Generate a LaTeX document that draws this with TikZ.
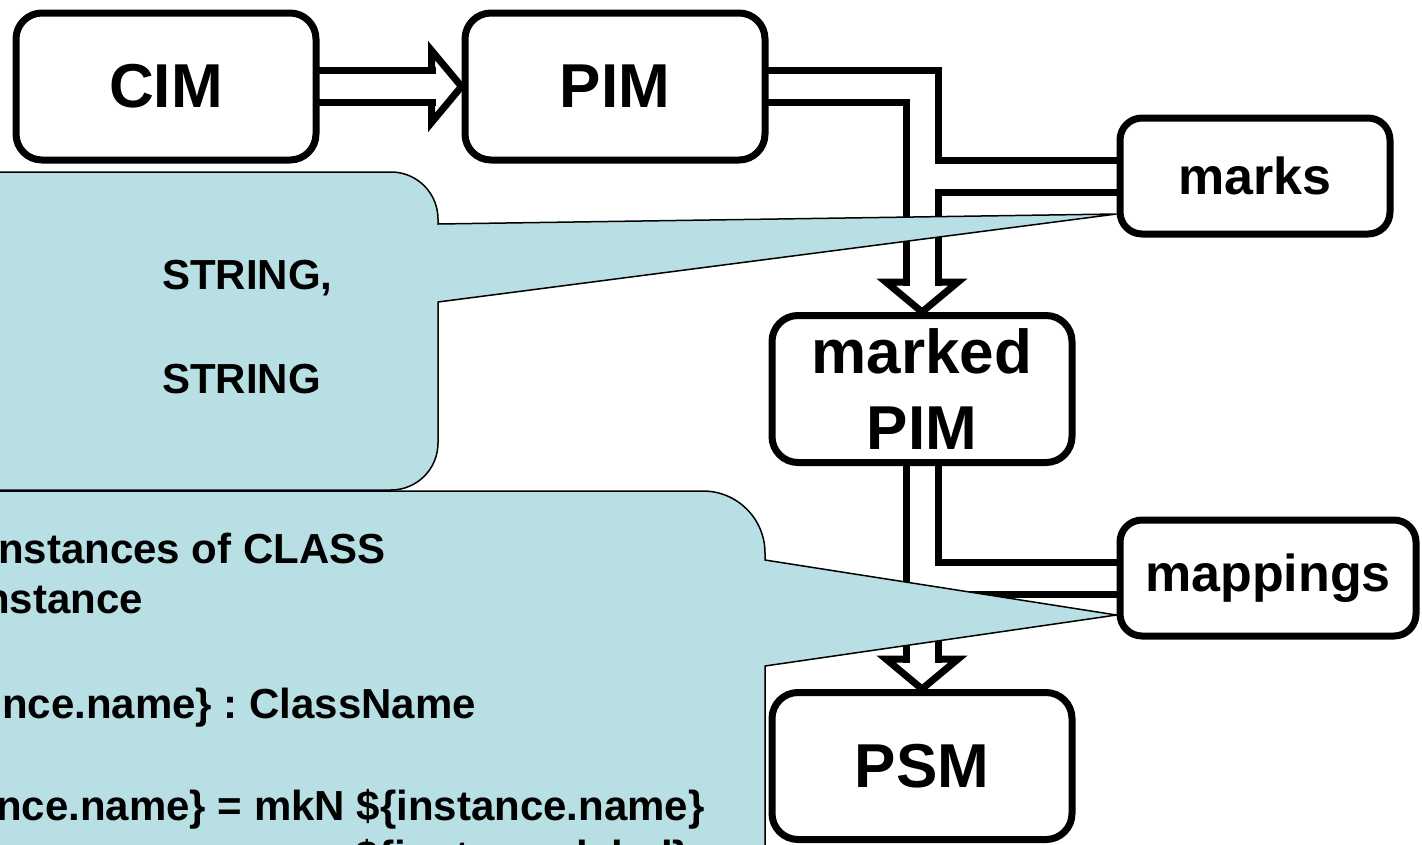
\documentclass[tikz,border=0pt]{standalone}
\usepackage{fontspec}
\setmainfont{Liberation Sans}
\usetikzlibrary{calc}
\usetikzlibrary{backgrounds}
\frenchspacing

\definecolor{notefill}{RGB}{184,223,227}

\tikzset{
  modelbox/.style={draw, line width=7pt, fill=white, rounded corners=26pt,
    minimum width=300pt, minimum height=147pt, align=center,
    font=\fontsize{62}{76}\selectfont\bfseries},
  markbox/.style={modelbox, rounded corners=22pt, minimum height=116pt,
    font=\fontsize{52}{60}\selectfont\bfseries},
  headtri/.style={line width=7pt, draw=black, fill=white},
  note/.style={draw=black, line width=1.5pt, fill=notefill},
  notetext/.style={anchor=base west, inner sep=0pt,
    font=\fontsize{42}{50}\selectfont\bfseries},
}

\begin{document}
\begin{tikzpicture}[x=1pt,y=-1pt]
    \useasboundingbox (0,0) rectangle (1422,844);
    % Models.
    \node[modelbox] (cim) at (166,86.5) {CIM};
    \node[modelbox] (pim) at (615,86.5) {PIM};
    \node[markbox, minimum width=270pt] (marks) at (1255,176) {marks};
    \node[modelbox] (marked) at (922,389) {marked\\PIM};
    \node[markbox, minimum width=296pt] (mappings) at (1268,578) {mappings};
    \node[modelbox] (psm) at (922,766) {PSM};

    \begin{scope}[on background layer]
      \clip (0,0) rectangle (1422,844);
      % Hollow arrow heads.
      \filldraw[headtri] ($(pim.west)+(-30,-36)$) -- (pim.west) -- ($(pim.west)+(-30,36)$) -- cycle;
      \foreach \n in {marked, psm}
      \filldraw[headtri] ($(\n.north)+(-36,-30)$) -- (\n.north) -- ($(\n.north)+(36,-30)$) -- cycle;
      % Double shafts: black band first, white core on top.
      \foreach \w/\c in {39/black, 25/white} {
        \draw[line width=\w pt, draw=\c] (cim.center) -- ($(pim.west)+(-26,0)$);
        \draw[line width=\w pt, draw=\c] (pim.center) -| ($(marked.north)+(0,-26)$);
        \draw[line width=\w pt, draw=\c] (marks.center) -- (marks.center -| marked.center);
        \draw[line width=\w pt, draw=\c] (marked.center) -- ($(psm.north)+(0,-26)$);
        \draw[line width=\w pt, draw=\c] (mappings.center) -- (mappings.center -| marked.center);
      }
      % Callouts.
      \coordinate (marktip) at ($(marks.west)+(0,38)$);
      \coordinate (maptip) at ($(mappings.west)+(0,37)$);
      \draw[note] (-20,172) -- (391,172) arc[start angle=90, end angle=0, radius=47pt]
        -- (438,224) -- (marktip) -- (438,302) -- (438,443)
        arc[start angle=0, end angle=-90, radius=47pt] -- (-20,490) -- cycle;
      \draw[note] (-20,491) -- (703,491) arc[start angle=90, end angle=0, radius=62pt]
        -- (765,560) -- (maptip) -- (765,666) -- (765,880) -- (-20,880) -- cycle;
      \node[notetext] (typea) at (162,289) {STRING,};
      \node[notetext] (typeb) at (162,393) {STRING};
      \node[notetext] (rulea) at (-2,563) {nstances of CLASS};
      \node[notetext] (ruleb) at (-16,613) {nstance};
      \node[notetext] (rulec) at (2,718) {nce.name\} : ClassName};
      \node[notetext] (ruled) at (-4,820) {nce.name\} = mkN \$\{instance.name\}};
      \node[notetext] (rulee) at (355,870) {\$\{instance.label\}};
    \end{scope}
\end{tikzpicture}
\end{document}
